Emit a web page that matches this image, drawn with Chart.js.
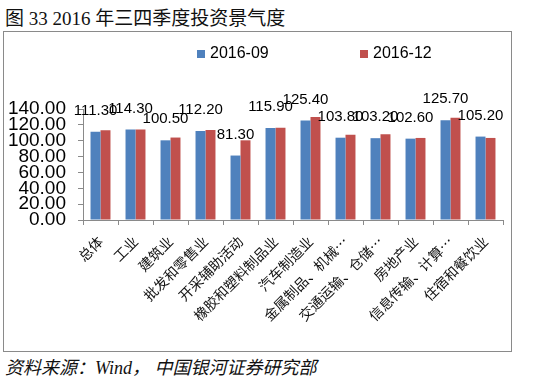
<!DOCTYPE html>
<html>
<head>
<meta charset="utf-8">
<script src="https://cdn.jsdelivr.net/npm/chart.js@4"></script>
<style>
  body { margin: 0; background: #fff; width: 540px; height: 387px; position: relative; overflow: hidden; }
  #titulo { position: absolute; left: 5px; top: 3px; font: 19px "Liberation Serif", "Noto Sans CJK SC", serif; color: #111; white-space: nowrap; }
  #caja { position: absolute; left: 3px; top: 31px; width: 507px; height: 319px; border: 1px solid #8a8a8a; }
  #fuente { position: absolute; left: 5px; top: 353px; font: italic 18px "Liberation Serif", "Noto Sans CJK SC", serif; color: #111; white-space: nowrap; }
</style>
</head>
<body>
<div id="titulo">图 33 2016 年三四季度投资景气度</div>
<div id="caja"><canvas id="grafico" width="507" height="319"></canvas></div>
<div id="fuente">资料来源：Wind，&nbsp;中国银河证券研究部</div>
<script>
// datos
const categorias = ['总体', '工业', '建筑业', '批发和零售业', '开采辅助活动', '橡胶和塑料制品业', '汽车制造业',
  '金属制品、机械…', '交通运输、仓储…', '房地产业', '信息传输、计算…', '住宿和餐饮业'];
const series = ['2016-09', '2016-12'];
const valores09 = [111.3, 114.3, 100.5, 112.2, 81.3, 115.9, 125.4, 103.8, 103.2, 102.6, 125.7, 105.2];
const valores12 = [113.3, 114.3, 104.0, 113.5, 100.5, 116.5, 130.0, 107.5, 108.0, 103.5, 129.0, 103.5];
const ticksY = [0, 20, 40, 60, 80, 100, 120, 140];

const azul = '#4F81BD';
const rojo = '#C0504D';

// etiquetas de valor solo para la primera serie
const etiquetasValor = {
  id: 'etiquetasValor',
  afterDatasetsDraw(chart) {
    const ctx = chart.ctx;
    const meta = chart.getDatasetMeta(0);
    ctx.save();
    ctx.font = '15px "Liberation Sans", Arial, sans-serif';
    ctx.fillStyle = '#000';
    ctx.textAlign = 'center';
    ctx.textBaseline = 'middle';
    meta.data.forEach((bar, i) => {
      ctx.fillText(valores09[i].toFixed(2), bar.x, bar.y - 21);
    });
    ctx.restore();
  }
};

// leyenda arriba, con los cuadritos separados como en excel
const leyenda = {
  id: 'leyenda',
  afterDraw(chart) {
    const ctx = chart.ctx;
    ctx.save();
    ctx.font = '16px "Liberation Sans", Arial, sans-serif';
    ctx.textBaseline = 'middle';
    let x = 193;
    const y = 22;
    chart.data.datasets.forEach((ds) => {
      ctx.fillStyle = ds.backgroundColor;
      ctx.fillRect(x, y - 4, 8, 8);
      ctx.fillStyle = '#000';
      ctx.fillText(ds.label, x + 13, y);
      x += 163;
    });
    ctx.restore();
  }
};

const ctx = document.getElementById('grafico').getContext('2d');
new Chart(ctx, {
  type: 'bar',
  data: {
    labels: categorias,
    datasets: [
      { label: series[0], data: valores09, backgroundColor: azul, categoryPercentage: 0.57, barPercentage: 1.0 },
      { label: series[1], data: valores12, backgroundColor: rojo, categoryPercentage: 0.57, barPercentage: 1.0 }
    ]
  },
  options: {
    responsive: false,
    animation: false,
    devicePixelRatio: 1,
    layout: { padding: { top: 77, left: 0, right: 8, bottom: 20 } },
    plugins: {
      legend: { display: false },
      tooltip: { enabled: false }
    },
    scales: {
      x: {
        grid: { display: true, drawOnChartArea: false, tickLength: 5, color: '#8a8a8a' },
        border: { display: true, color: '#8a8a8a' },
        ticks: {
          minRotation: 45,
          maxRotation: 45,
          padding: 8,
          color: '#111',
          font: { family: '"Noto Sans CJK SC", sans-serif', size: 14 }
        }
      },
      y: {
        min: 0,
        max: 140,
        afterBuildTicks: (scale) => { scale.ticks = ticksY.map(v => ({ value: v })); },
        afterFit: (scale) => { scale.width = 79; },
        grid: { display: true, drawOnChartArea: false, tickLength: 5, color: '#8a8a8a' },
        border: { display: true, color: '#8a8a8a' },
        ticks: {
          autoSkip: false,
          padding: 12,
          color: '#000',
          font: { family: '"Liberation Sans", Arial, sans-serif', size: 19 },
          callback: (v) => Number(v).toFixed(2)
        }
      }
    }
  },
  plugins: [etiquetasValor, leyenda]
});
</script>
</body>
</html>
